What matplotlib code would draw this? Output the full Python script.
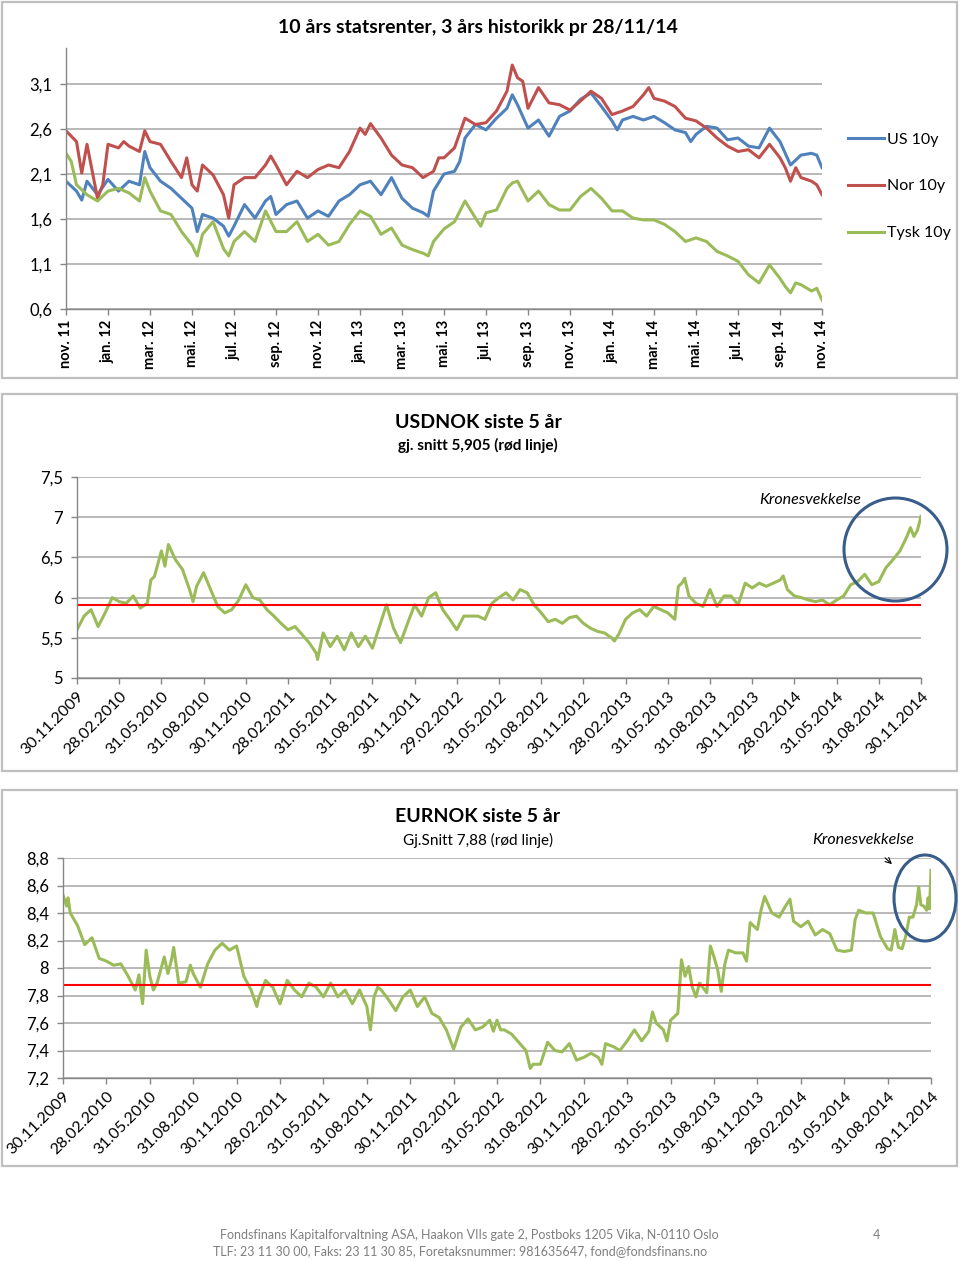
import matplotlib
matplotlib.use("Agg")
import matplotlib.pyplot as plt
from matplotlib.patches import Rectangle, Ellipse

W, H = 960, 1261
FONT = ["Lato", "DejaVu Sans"]
plt.rcParams["font.family"] = FONT

# ---- 10 års statsrenter (months since nov. 2011) ----
rate_ticks = [0.6, 1.1, 1.6, 2.1, 2.6, 3.1]
rate_tick_labels = ["0,6", "1,1", "1,6", "2,1", "2,6", "3,1"]
month_labels = ["nov. 11", "jan. 12", "mar. 12", "mai. 12", "jul. 12", "sep. 12",
                "nov. 12", "jan. 13", "mar. 13", "mai. 13", "jul. 13", "sep. 13",
                "nov. 13", "jan. 14", "mar. 14", "mai. 14", "jul. 14", "sep. 14",
                "nov. 14"]

us_x = [0, 0.5, 0.75, 1, 1.5, 2, 2.5, 3, 3.5, 3.75, 4, 4.5, 5, 5.5, 6, 6.25, 6.5,
        7, 7.5, 7.75, 8, 8.5, 9, 9.5, 9.75, 10, 10.5, 11, 11.5, 12, 12.5, 13, 13.5,
        14, 14.5, 15, 15.5, 16, 16.5, 17, 17.25, 17.5, 18, 18.5, 18.75, 19, 19.5,
        20, 20.5, 21, 21.25, 21.5, 22, 22.5, 23, 23.5, 24, 24.5, 25, 25.5, 26,
        26.25, 26.5, 27, 27.5, 28, 28.5, 29, 29.5, 29.75, 30, 30.5, 31, 31.5, 32,
        32.5, 33, 33.5, 34, 34.5, 35, 35.5, 35.75, 36]
us_10y = [2.02, 1.91, 1.81, 2.02, 1.87, 2.04, 1.91, 2.02, 1.98, 2.35, 2.17, 2.02,
          1.94, 1.83, 1.72, 1.46, 1.65, 1.61, 1.52, 1.41, 1.52, 1.76, 1.61, 1.80,
          1.85, 1.65, 1.76, 1.80, 1.61, 1.69, 1.63, 1.80, 1.87, 1.98, 2.02, 1.87,
          2.06, 1.83, 1.72, 1.67, 1.63, 1.91, 2.10, 2.13, 2.24, 2.50, 2.65, 2.59,
          2.72, 2.83, 2.98, 2.87, 2.61, 2.70, 2.52, 2.74, 2.80, 2.93, 3.00, 2.85,
          2.69, 2.59, 2.70, 2.74, 2.70, 2.74, 2.67, 2.59, 2.56, 2.46, 2.54, 2.63,
          2.61, 2.48, 2.50, 2.41, 2.39, 2.61, 2.46, 2.20, 2.31, 2.33, 2.31, 2.17]

nor_x = [0, 0.5, 0.75, 1, 1.5, 1.75, 2, 2.5, 2.75, 3, 3.5, 3.75, 4, 4.5, 5, 5.5,
         5.75, 6, 6.25, 6.5, 7, 7.5, 7.75, 8, 8.5, 9, 9.5, 9.75, 10, 10.5, 11,
         11.5, 12, 12.5, 13, 13.5, 14, 14.25, 14.5, 15, 15.5, 16, 16.5, 17, 17.5,
         17.75, 18, 18.5, 19, 19.5, 20, 20.5, 21, 21.25, 21.5, 21.75, 22, 22.5,
         23, 23.5, 24, 24.5, 25, 25.5, 26, 26.5, 27, 27.5, 27.75, 28, 28.5, 29,
         29.5, 30, 30.5, 31, 31.5, 32, 32.5, 33, 33.5, 34, 34.25, 34.5, 34.75, 35,
         35.5, 35.75, 36]
nor_10y = [2.58, 2.46, 2.11, 2.43, 1.83, 1.98, 2.43, 2.39, 2.46, 2.41, 2.35, 2.58,
           2.46, 2.43, 2.24, 2.06, 2.28, 1.98, 1.91, 2.20, 2.09, 1.87, 1.61, 1.98,
           2.06, 2.06, 2.20, 2.30, 2.20, 1.98, 2.13, 2.06, 2.15, 2.20, 2.17, 2.35,
           2.61, 2.54, 2.66, 2.50, 2.31, 2.20, 2.17, 2.06, 2.13, 2.28, 2.28, 2.39,
           2.72, 2.65, 2.67, 2.80, 3.02, 3.31, 3.17, 3.13, 2.83, 3.06, 2.89, 2.87,
           2.81, 2.91, 3.02, 2.94, 2.76, 2.80, 2.85, 2.98, 3.06, 2.94, 2.91, 2.85,
           2.72, 2.69, 2.61, 2.50, 2.41, 2.35, 2.37, 2.28, 2.43, 2.28, 2.17, 2.02,
           2.17, 2.06, 2.02, 1.98, 1.87]

tysk_x = [0, 0.25, 0.5, 1, 1.5, 2, 2.5, 3, 3.5, 3.75, 4, 4.5, 5, 5.5, 6, 6.25,
          6.5, 7, 7.5, 7.75, 8, 8.5, 9, 9.5, 10, 10.5, 11, 11.5, 12, 12.5, 13,
          13.5, 14, 14.5, 15, 15.5, 16, 16.5, 17, 17.25, 17.5, 18, 18.5, 19, 19.5,
          19.75, 20, 20.5, 21, 21.25, 21.5, 22, 22.5, 23, 23.5, 24, 24.5, 25, 25.5,
          26, 26.5, 27, 27.5, 28, 28.5, 29, 29.5, 30, 30.5, 31, 31.5, 32, 32.5, 33,
          33.5, 34, 34.25, 34.5, 34.75, 35, 35.5, 35.75, 36]
tysk_10y = [2.33, 2.24, 1.98, 1.87, 1.80, 1.91, 1.94, 1.89, 1.80, 2.06, 1.91, 1.69,
            1.65, 1.46, 1.31, 1.19, 1.43, 1.57, 1.27, 1.19, 1.35, 1.46, 1.35, 1.69,
            1.46, 1.46, 1.57, 1.35, 1.43, 1.31, 1.35, 1.54, 1.69, 1.63, 1.43, 1.50,
            1.31, 1.26, 1.22, 1.19, 1.35, 1.49, 1.57, 1.80, 1.61, 1.52, 1.67, 1.70,
            1.94, 2.00, 2.02, 1.80, 1.91, 1.76, 1.70, 1.70, 1.85, 1.94, 1.83, 1.69,
            1.69, 1.61, 1.59, 1.59, 1.54, 1.46, 1.35, 1.39, 1.35, 1.24, 1.19, 1.13,
            0.98, 0.89, 1.09, 0.94, 0.85, 0.78, 0.89, 0.87, 0.80, 0.83, 0.70]

# ---- 5 års valuta (months since 30.11.2009) ----
quarter_labels = ["30.11.2009", "28.02.2010", "31.05.2010", "31.08.2010",
                  "30.11.2010", "28.02.2011", "31.05.2011", "31.08.2011",
                  "30.11.2011", "29.02.2012", "31.05.2012", "31.08.2012",
                  "30.11.2012", "28.02.2013", "31.05.2013", "31.08.2013",
                  "30.11.2013", "28.02.2014", "31.05.2014", "31.08.2014",
                  "30.11.2014"]

usd_ticks = [5, 5.5, 6, 6.5, 7, 7.5]
usd_tick_labels = ["5", "5,5", "6", "6,5", "7", "7,5"]
usd_avg = 5.905
usd_x = [0, 0.5, 1, 1.5, 2, 2.5, 3, 3.5, 4, 4.5, 5, 5.25, 5.5, 6, 6.25, 6.5, 7,
         7.5, 8, 8.25, 8.5, 9, 9.5, 10, 10.5, 11, 11.5, 12, 12.5, 13, 13.5, 14,
         14.5, 15, 15.5, 16, 16.5, 17, 17.1, 17.5, 18, 18.5, 19, 19.5, 20, 20.5,
         21, 21.5, 22, 22.5, 23, 23.5, 24, 24.5, 25, 25.5, 26, 26.5, 27, 27.5, 28,
         28.5, 29, 29.5, 30, 30.5, 31, 31.5, 32, 32.5, 33, 33.5, 34, 34.5, 35,
         35.5, 36, 36.5, 37, 37.5, 38, 38.2, 38.5, 39, 39.5, 40, 40.5, 41, 41.5,
         42, 42.5, 42.75, 43, 43.2, 43.5, 44, 44.5, 45, 45.5, 46, 46.5, 47, 47.5,
         48, 48.5, 49, 49.5, 50, 50.2, 50.5, 51, 51.5, 52, 52.5, 53, 53.5, 54,
         54.5, 55, 55.5, 56, 56.5, 57, 57.5, 58, 58.5, 59, 59.25, 59.5, 59.75, 60]
usd_nok = [5.60, 5.77, 5.85, 5.64, 5.81, 6.00, 5.95, 5.93, 6.02, 5.87, 5.93, 6.22,
           6.26, 6.58, 6.39, 6.66, 6.47, 6.35, 6.10, 5.95, 6.14, 6.31, 6.10, 5.89,
           5.81, 5.85, 5.97, 6.16, 6.00, 5.97, 5.85, 5.77, 5.68, 5.60, 5.64, 5.54,
           5.44, 5.31, 5.23, 5.56, 5.39, 5.52, 5.35, 5.56, 5.39, 5.52, 5.37, 5.64,
           5.91, 5.62, 5.44, 5.68, 5.91, 5.77, 6.00, 6.06, 5.85, 5.73, 5.60, 5.77,
           5.77, 5.77, 5.73, 5.93, 6.00, 6.06, 5.97, 6.10, 6.06, 5.91, 5.81, 5.70,
           5.73, 5.68, 5.75, 5.77, 5.68, 5.62, 5.58, 5.56, 5.50, 5.46, 5.54, 5.73,
           5.81, 5.85, 5.77, 5.89, 5.85, 5.81, 5.73, 6.14, 6.18, 6.24, 6.02, 5.93,
           5.89, 6.10, 5.89, 6.02, 6.02, 5.91, 6.18, 6.12, 6.18, 6.14, 6.18, 6.22,
           6.27, 6.10, 6.02, 6.00, 5.97, 5.95, 5.97, 5.91, 5.97, 6.02, 6.16, 6.20,
           6.29, 6.16, 6.20, 6.37, 6.47, 6.58, 6.76, 6.87, 6.76, 6.84, 7.01]

eur_ticks = [7.2, 7.4, 7.6, 7.8, 8.0, 8.2, 8.4, 8.6, 8.8]
eur_tick_labels = ["7,2", "7,4", "7,6", "7,8", "8", "8,2", "8,4", "8,6", "8,8"]
eur_avg = 7.88
eur_x = [0, 0.25, 0.35, 0.5, 1, 1.5, 2, 2.5, 3, 3.5, 4, 4.5, 5, 5.25, 5.5, 5.75,
         6, 6.25, 6.5, 7, 7.25, 7.5, 7.65, 8, 8.5, 8.8, 9, 9.5, 10, 10.5, 11,
         11.5, 12, 12.5, 13, 13.4, 13.5, 14, 14.5, 15, 15.5, 16, 16.5, 17, 17.5,
         18, 18.5, 19, 19.5, 20, 20.5, 21, 21.25, 21.5, 21.75, 22, 22.5, 23, 23.5,
         24, 24.5, 25, 25.5, 26, 26.5, 27, 27.5, 28, 28.5, 29, 29.5, 29.75, 30,
         30.25, 30.5, 31, 31.5, 32, 32.3, 32.5, 33, 33.5, 34, 34.5, 35, 35.5, 36,
         36.5, 37, 37.25, 37.5, 38, 38.5, 39, 39.5, 40, 40.5, 40.75, 41, 41.5,
         41.75, 42, 42.5, 42.75, 43, 43.25, 43.5, 43.75, 44, 44.5, 44.75, 45,
         45.25, 45.5, 45.75, 46, 46.5, 47, 47.25, 47.5, 48, 48.25, 48.5, 49, 49.5,
         50, 50.25, 50.5, 51, 51.5, 52, 52.5, 53, 53.5, 54, 54.5, 54.75, 55, 55.5,
         56, 56.5, 57, 57.25, 57.5, 57.75, 58, 58.25, 58.5, 58.75, 59, 59.15,
         59.3, 59.5, 59.7, 59.8, 59.9, 60]
eur_nok = [8.53, 8.45, 8.51, 8.40, 8.31, 8.17, 8.22, 8.07, 8.05, 8.02, 8.03, 7.94,
           7.84, 7.95, 7.74, 8.13, 7.94, 7.84, 7.89, 8.08, 7.96, 8.06, 8.15, 7.89,
           7.90, 8.02, 7.96, 7.86, 8.03, 8.13, 8.18, 8.13, 8.16, 7.94, 7.84, 7.72,
           7.77, 7.91, 7.86, 7.74, 7.91, 7.84, 7.79, 7.89, 7.86, 7.79, 7.89, 7.79,
           7.84, 7.74, 7.84, 7.72, 7.55, 7.79, 7.86, 7.84, 7.77, 7.69, 7.79, 7.84,
           7.72, 7.79, 7.67, 7.64, 7.55, 7.41, 7.57, 7.63, 7.55, 7.57, 7.62, 7.54,
           7.62, 7.55, 7.55, 7.52, 7.46, 7.40, 7.27, 7.30, 7.30, 7.46, 7.40, 7.39,
           7.45, 7.33, 7.35, 7.38, 7.35, 7.30, 7.45, 7.43, 7.40, 7.47, 7.55, 7.47,
           7.54, 7.68, 7.60, 7.55, 7.47, 7.62, 7.67, 8.06, 7.94, 8.01, 7.86, 7.79,
           7.89, 7.82, 8.16, 8.08, 7.99, 7.83, 8.03, 8.13, 8.11, 8.11, 8.05, 8.33,
           8.28, 8.42, 8.52, 8.40, 8.37, 8.46, 8.50, 8.34, 8.30, 8.34, 8.24, 8.28,
           8.25, 8.13, 8.12, 8.13, 8.35, 8.42, 8.40, 8.40, 8.23, 8.14, 8.13, 8.28,
           8.15, 8.14, 8.23, 8.37, 8.37, 8.46, 8.59, 8.46, 8.45, 8.42, 8.51, 8.43,
           8.71]

BLUE = "#4F81BD"
RED = "#C0504D"
GREEN = "#9BBB59"
GRID = "#A6A6A6"
AXIS = "#868686"
CIRCLE = "#385D8A"


def px_axes(fig, left, top, right, bottom):
    return fig.add_axes([left / W, 1 - bottom / H, (right - left) / W, (bottom - top) / H])


def style_axes(ax, yticks, ylabels, xticks, xlabels, rotation):
    ax.set_yticks(yticks)
    ax.set_yticklabels(ylabels, fontsize=12)
    ax.set_xticks(xticks)
    if rotation == 90:
        ax.set_xticklabels(xlabels, rotation=90, fontsize=10.5, fontweight="bold",
                           ha="center", va="top")
    else:
        ax.set_xticklabels(xlabels, rotation=45, fontsize=11.5, ha="right",
                           va="top", rotation_mode="anchor")
    ax.grid(axis="y", color=GRID, linewidth=1.1)
    ax.set_axisbelow(True)
    for side in ["top", "right"]:
        ax.spines[side].set_visible(False)
    for side in ["left", "bottom"]:
        ax.spines[side].set_color(AXIS)
        ax.spines[side].set_linewidth(1.0)
    ax.tick_params(axis="both", direction="out", length=4, color=AXIS, width=1.0,
                   labelcolor="black")
    ax.tick_params(axis="y", pad=6)
    ax.tick_params(axis="x", pad=4)


fig = plt.figure(figsize=(W / 100, H / 100), dpi=100)
fig.patch.set_facecolor("white")

# Panel 1: statsrenter
ax1 = px_axes(fig, 66, 48, 822, 309)
ax1.plot(us_x, us_10y, color=BLUE, linewidth=2.2, label="US 10y")
ax1.plot(nor_x, nor_10y, color=RED, linewidth=2.2, label="Nor 10y")
ax1.plot(tysk_x, tysk_10y, color=GREEN, linewidth=2.2, label="Tysk 10y")
ax1.set_xlim(0, 36)
ax1.set_ylim(0.6, 3.5)
style_axes(ax1, rate_ticks, rate_tick_labels, list(range(0, 37, 2)), month_labels, 90)
ax1.legend(loc="upper left", bbox_to_anchor=(834 / W, 1 - 118 / H),
           bbox_transform=fig.transFigure, frameon=False, fontsize=11.5,
           handlelength=2.2, handletextpad=0.2, labelspacing=2.05)

# Panel 2: USDNOK
ax2 = px_axes(fig, 77, 477, 921, 678)
ax2.plot(usd_x, usd_nok, color=GREEN, linewidth=2.2)
ax2.axhline(usd_avg, color="#FF0000", linewidth=1.5)
ax2.set_xlim(0, 60)
ax2.set_ylim(5, 7.5)
style_axes(ax2, usd_ticks, usd_tick_labels, list(range(0, 61, 3)), quarter_labels, 45)

# Panel 3: EURNOK
ax3 = px_axes(fig, 63, 858, 931, 1078)
ax3.plot(eur_x, eur_nok, color=GREEN, linewidth=2.2)
ax3.axhline(eur_avg, color="#FF0000", linewidth=1.5)
ax3.set_xlim(0, 60)
ax3.set_ylim(7.2, 8.8)
style_axes(ax3, eur_ticks, eur_tick_labels, list(range(0, 61, 3)), quarter_labels, 45)

# Overlay in pixel coordinates for frames, titles, circles and footer
ov = fig.add_axes([0, 0, 1, 1], zorder=10)
ov.set_xlim(0, W)
ov.set_ylim(H, 0)
ov.axis("off")
ov.patch.set_alpha(0)

for top, bottom in [(2, 378), (394, 771), (790, 1166)]:
    ov.add_patch(Rectangle((2, top), 955, bottom - top, fill=False,
                           edgecolor="#BFBFBF", linewidth=1.6))

ov.text(478, 28, "10 års statsrenter, 3 års historikk pr 28/11/14", ha="center",
        va="center", fontsize=14, fontweight="bold")
ov.text(478, 422, "USDNOK siste 5 år", ha="center", va="center", fontsize=14,
        fontweight="bold")
ov.text(478, 445, "gj. snitt 5,905 (rød linje)", ha="center", va="center",
        fontsize=11, fontweight="bold")
ov.text(478, 817, "EURNOK siste 5 år", ha="center", va="center", fontsize=14,
        fontweight="bold")
ov.text(478, 840, "Gj.Snitt 7,88 (rød linje)", ha="center", va="center",
        fontsize=11)

ov.text(810, 500, "Kronesvekkelse", ha="center", va="center", fontsize=11.5,
        style="italic")
ov.add_patch(Ellipse((895.5, 549.5), 103, 103, fill=False, edgecolor=CIRCLE,
                     linewidth=2.2))
ov.text(863, 840, "Kronesvekkelse", ha="center", va="center", fontsize=11.5,
        style="italic")
ov.annotate("", xy=(894, 866), xytext=(883, 856),
            arrowprops=dict(arrowstyle="->", color="black", linewidth=0.8))
ov.add_patch(Ellipse((925, 898), 62, 86, fill=False, edgecolor=CIRCLE,
                     linewidth=2.2))

ov.text(220, 1235, "Fondsfinans Kapitalforvaltning ASA, Haakon VIIs gate 2, Postboks 1205 Vika, N-0110 Oslo",
        ha="left", va="center", fontsize=9, color="#7F7F7F")
ov.text(213, 1251, "TLF: 23 11 30 00, Faks: 23 11 30 85, Foretaksnummer: 981635647, fond@fondsfinans.no",
        ha="left", va="center", fontsize=9, color="#7F7F7F")
ov.text(876, 1235, "4", ha="center", va="center", fontsize=9, color="#7F7F7F")

fig.savefig("out.png", dpi=100)
plt.close(fig)
